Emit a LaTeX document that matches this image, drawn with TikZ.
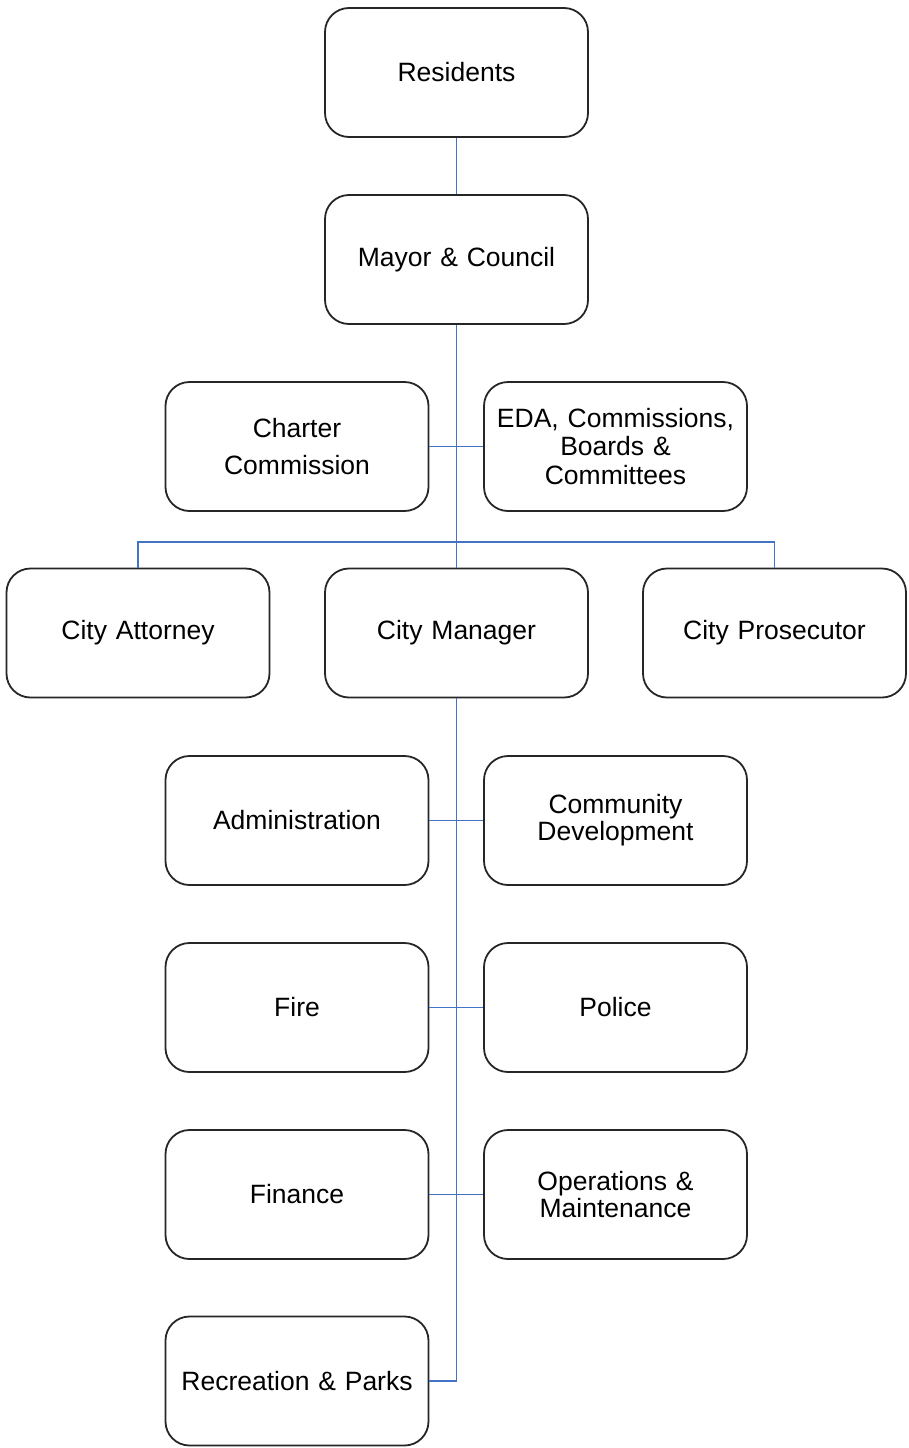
\documentclass[tikz,border=0pt]{standalone}
\usepackage{fontspec}
\setmainfont{Liberation Sans}
\begin{document}
\begin{tikzpicture}[x=1pt,y=-1pt,
  box/.style={draw=black!85,line width=1.8pt,rounded corners=24pt,minimum width=261pt,minimum height=129pt,
    align=center,inner sep=2pt,font=\fontsize{26.5}{28.5}\selectfont,text width=259pt},
  link/.style={draw={rgb,255:red,68;green,114;blue,196},line width=1.5pt}]
\useasboundingbox (0,0) rectangle (909,1448);
\node[box] (res) at (456.5,72.5) {Residents};
\node[box] (may) at (456.5,259.5) {Mayor \& Council};
\node[box,font=\fontsize{26.5}{37}\selectfont] (cha) at (297,446.5) {Charter\\Commission};
\node[box] (eda) at (615.5,446.5) {EDA, Commissions,\\Boards \&\\Committees};
\node[box] (att) at (138,633) {City Attorney};
\node[box] (man) at (456.5,633) {City Manager};
\node[box] (pro) at (774.5,633) {City Prosecutor};
\node[box] (adm) at (297,820.5) {Administration};
\node[box,font=\fontsize{26.5}{27}\selectfont] (com) at (615.5,820.5) {Community\\Development};
\node[box] (fir) at (297,1007.5) {Fire};
\node[box] (pol) at (615.5,1007.5) {Police};
\node[box] (fin) at (297,1194.5) {Finance};
\node[box,font=\fontsize{26.5}{27}\selectfont] (ops) at (615.5,1194.5) {Operations \&\\Maintenance};
\node[box] (rec) at (297,1381) {Recreation \& Parks};
\coordinate (j2) at (456.5,542);
\coordinate (k4) at (456.5,1381);
\draw[link] (res) -- (may);
\draw[link] (may) -- (man);
\draw[link] (cha) -- (eda);
\draw[link] (att) |- (j2) -| (pro);
\draw[link] (man.south) -- (k4) -- (rec);
\draw[link] (adm) -- (com);
\draw[link] (fir) -- (pol);
\draw[link] (fin) -- (ops);
\end{tikzpicture}
\end{document}
